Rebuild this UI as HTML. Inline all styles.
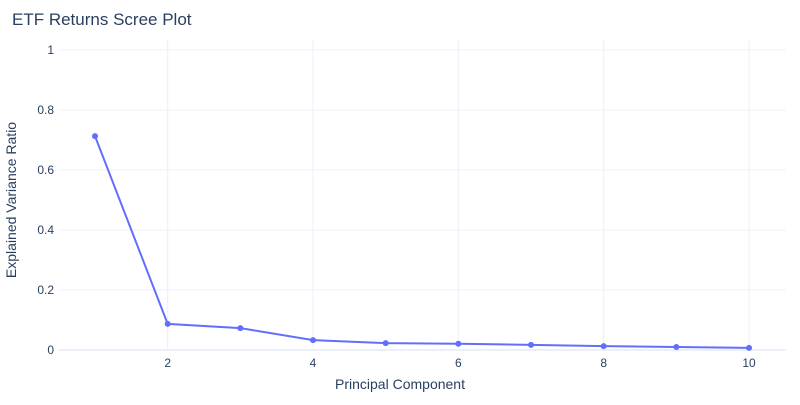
<!DOCTYPE html>
<html><head><meta charset="utf-8"><style>
body{margin:0;background:#fff;font-family:"Liberation Sans",sans-serif;}
svg text{font-family:"Liberation Sans",sans-serif;}
</style></head><body>
<svg id="chart" width="800" height="400">
<text x="12" y="25" font-size="17" fill="#2a3f5f">ETF Returns Scree Plot</text>
<g id="grid"></g><g id="axes"></g><g id="series"></g>
<text x="400" y="389" font-size="14" fill="#2a3f5f" text-anchor="middle">Principal Component</text>
<text transform="translate(16,200) rotate(-90)" font-size="14" fill="#2a3f5f" text-anchor="middle">Explained Variance Ratio</text>
</svg>
<script>
const components=[1,2,3,4,5,6,7,8,9,10];
const varianceRatio=[0.713,0.087,0.073,0.033,0.023,0.021,0.017,0.013,0.010,0.007];
const xTicks=[2,4,6,8,10];
const yTicks=[0,0.2,0.4,0.6,0.8,1];
const yTickLabels=["0","0.2","0.4","0.6","0.8","1"];
const NS="http://www.w3.org/2000/svg";
const xs=v=>95+(v-1)*72.67;
const ys=v=>350-v*300;
function mk(t,a,p){const e=document.createElementNS(NS,t);for(const k in a)e.setAttribute(k,a[k]);p.appendChild(e);return e;}
const grid=document.getElementById('grid'),axes=document.getElementById('axes'),series=document.getElementById('series');
xTicks.forEach(t=>{
 const l=mk('line',{x1:xs(t),x2:xs(t),y1:40,y2:350,stroke:'#ebf0f8','stroke-width':1},grid);
 
 
 const tx=mk('text',{x:xs(t),y:367,'font-size':12,fill:'#2a3f5f','text-anchor':'middle'},axes);
 tx.textContent=t;
 
 
});
yTicks.forEach((t,i)=>{
 const l=mk('line',{x1:59,x2:786,y1:ys(t),y2:ys(t),stroke:t===0?'#ebf0f8':'#ebf0f8','stroke-width':t===0?2:1},grid);
 
 
 const tx=mk('text',{x:54,y:ys(t)+4,'font-size':12,fill:'#2a3f5f','text-anchor':'end'},axes);
 tx.textContent=yTickLabels[i];
 
 
});
const pts=components.map((c,i)=>xs(c)+','+ys(varianceRatio[i])).join(' ');
const pl=mk('polyline',{points:pts,fill:'none',stroke:'#636efa','stroke-width':2},series);


components.forEach((c,i)=>{
 const p=mk('circle',{cx:xs(c),cy:ys(varianceRatio[i]),r:3,fill:'#636efa'},series);
 
 
});
</script>
</body></html>
